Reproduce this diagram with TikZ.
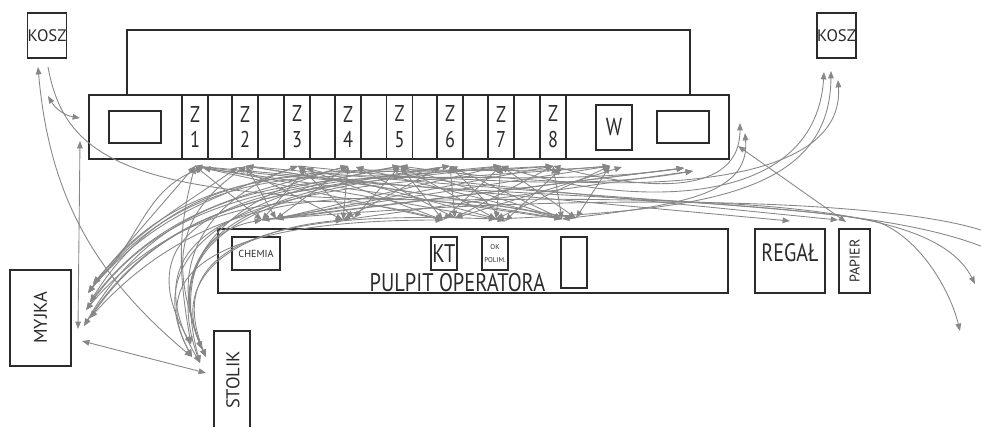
\documentclass[tikz,border=0pt]{standalone}
\usepackage{fontspec}
\setmainfont{PT Sans}
\newfontfamily\narrowfont{PT Sans}[FakeStretch=0.8]
\usepackage{tikz}
\usetikzlibrary{arrows.meta}
\definecolor{SpBox}{HTML}{2B2B2B}
\definecolor{SpFlow}{HTML}{878787}

\begin{document}
\begin{tikzpicture}[x=0.2mm,y=0.2mm,
  >={Triangle[length=4.2pt,width=3.2pt]},
  box/.style={draw=SpBox,line width=0.9pt,inner sep=0pt,text=SpBox},
  flow/.style={draw=SpFlow,line width=0.5pt},
  lbl/.style={text=SpBox,inner sep=0pt},
  zcol/.style={box,minimum width=5.2mm,minimum height=12.8mm,align=center,font=\narrowfont\fontsize{13}{14.7}\selectfont}]
\path[use as bounding box] (0,0) rectangle (981,-426);
\node[box,minimum width=7.2mm,minimum height=9mm,font=\fontsize{9.5}{11}\selectfont] (koszl) at (47,-35.5) {KOSZ};
\node[box,minimum width=7.4mm,minimum height=9mm,font=\fontsize{9.5}{11}\selectfont] (koszr) at (836.5,-35.5) {KOSZ};
\draw[SpBox,line width=0.9pt] (127,-95) |- (690,-30) -- (690,-95);
\draw[SpBox,line width=0.9pt] (89,-95) rectangle (729,-159);
\draw[SpBox,line width=0.9pt] (109,-111) rectangle (161,-143);
\draw[SpBox,line width=0.9pt] (657,-111) rectangle (709,-143);
\node[zcol] (z1) at (195,-127) {Z\\1};
\node[zcol] (z2) at (245,-127) {Z\\2};
\node[zcol] (z3) at (297,-127) {Z\\3};
\node[zcol] (z4) at (348,-127) {Z\\4};
\node[zcol] (z5) at (399.5,-127) {Z\\5};
\node[zcol] (z6) at (450,-127) {Z\\6};
\node[zcol] (z7) at (501,-127) {Z\\7};
\node[zcol] (z8) at (553,-127) {Z\\8};
\node[box,minimum width=7.2mm,minimum height=9mm,font=\narrowfont\fontsize{14}{16}\selectfont] (waga) at (614,-127.5) {W};
\draw[SpBox,line width=0.9pt] (218,-229) rectangle (728,-293);
\node[box,minimum width=9.6mm,minimum height=6.6mm,font=\fontsize{5.8}{7}\selectfont] (chemia) at (256,-253.5) {CHEMIA};
\node[box,minimum width=5.2mm,minimum height=6.6mm,font=\narrowfont\fontsize{14.5}{16}\selectfont] (kt) at (444,-253.5) {KT};
\node[box,minimum width=5.2mm,minimum height=6.6mm,align=center,font=\fontsize{4}{7.5}\selectfont] (okpolim) at (495,-253.5) {OK\\POLIM.};
\draw[SpBox,line width=0.9pt] (561,-237) rectangle (587,-288);
\node[lbl,anchor=base,font=\narrowfont\fontsize{14.5}{16}\selectfont] (pulpit) at (457.5,-291) {PULPIT OPERATORA};
\node[box,minimum width=14mm,minimum height=12.8mm] (regal) at (790,-261) {};
\node[lbl,font=\narrowfont\fontsize{14.3}{16}\selectfont] (regaltxt) at (790,-253) {REGAŁ};
\node[box,rotate=90,minimum width=12.8mm,minimum height=6.2mm,font=\fontsize{8}{10}\selectfont] (papier) at (854.5,-261) {PAPIER};
\node[box,rotate=90,minimum width=19.2mm,minimum height=12.2mm,font=\fontsize{10.5}{12}\selectfont] (myjka) at (40.5,-318) {MYJKA};
\draw[SpBox,line width=0.9pt] (214,-430) |- (250,-331) -- (250,-430);
\node[lbl,rotate=90,font=\fontsize{10.5}{12}\selectfont] (stolik) at (233,-380) {STOLIK};

\coordinate (b1) at (195,-166);
\coordinate (b2) at (246,-166);
\coordinate (b3) at (298,-166);
\coordinate (b4) at (348,-166);
\coordinate (b5) at (400,-166);
\coordinate (b6) at (450,-166);
\coordinate (b7) at (501,-166);
\coordinate (b8) at (553,-166);
\coordinate (c1) at (203,-168);
\coordinate (c2) at (238,-167);
\coordinate (c3) at (306,-168);
\coordinate (c4) at (356,-167);
\coordinate (c6) at (441,-167);
\coordinate (c8) at (562,-168);
\coordinate (bw) at (610,-166);
\coordinate (bx) at (622,-167);
\coordinate (pc) at (262,-220);
\coordinate (pd) at (276,-219);
\coordinate (p1) at (343,-220);
\coordinate (p1a) at (354,-218);
\coordinate (p2) at (443,-220);
\coordinate (p2a) at (455,-218);
\coordinate (p3) at (496,-219);
\coordinate (p3a) at (505,-221);
\coordinate (p4) at (562,-219);
\coordinate (p5) at (576,-218);
\coordinate (e1) at (684,-168);
\coordinate (e2) at (693,-171);
\coordinate (r1) at (740,-123);
\coordinate (r2) at (745,-133);
\coordinate (r3) at (738,-146);
\coordinate (k1) at (824,-72);
\coordinate (k2) at (831,-71);
\coordinate (k3) at (838,-80);
\coordinate (q1) at (38,-67);
\coordinate (q2) at (48,-67);
\coordinate (q3) at (48,-96);
\coordinate (q4) at (80,-118);
\coordinate (q5) at (80,-141);
\coordinate (m1) at (93,-284);
\coordinate (m2) at (88,-293);
\coordinate (m3) at (90,-302);
\coordinate (m4) at (86,-310);
\coordinate (m5) at (90,-318);
\coordinate (m6) at (84,-326);
\coordinate (m7) at (78,-329);
\coordinate (m8) at (82,-341);
\coordinate (s1) at (191,-344);
\coordinate (s2) at (202,-349);
\coordinate (s3) at (206,-357);
\coordinate (s4) at (200,-363);
\coordinate (s5) at (192,-357);
\coordinate (s6) at (206,-373);
\coordinate (g1) at (790,-221);
\coordinate (g2) at (838,-220);
\coordinate (g3) at (846,-222);
\coordinate (o1) at (975,-284);
\coordinate (o2) at (960,-331);
\coordinate (o3) at (995,-235);
\coordinate (o4) at (995,-252);

\draw[flow,<->] (b1) -- (pc);
\draw[flow,<->] (b2) -- (pd);
\draw[flow,<->] (c3) -- (pc);
\draw[flow,<->] (b4) -- (pd);
\draw[flow,<->] (c2) -- (p1);
\draw[flow,<->] (b3) -- (p1a);
\draw[flow,<->] (b4) -- (p1);
\draw[flow,<->] (b5) -- (p1a);
\draw[flow,<->] (c6) -- (p1);
\draw[flow,<->] (b3) -- (p2);
\draw[flow,<->] (c4) -- (p2a);
\draw[flow,<->] (b5) -- (p2);
\draw[flow,<->] (b6) -- (p2a);
\draw[flow,<->] (b7) -- (p2);
\draw[flow,<->] (b8) -- (p2a);
\draw[flow,<->] (b5) -- (p3);
\draw[flow,<->] (b6) -- (p3a);
\draw[flow,<->] (b7) -- (p3);
\draw[flow,<->] (c8) -- (p3a);
\draw[flow,<->] (b6) -- (p4);
\draw[flow,<->] (b7) -- (p5);
\draw[flow,<->] (b8) -- (p4);
\draw[flow,<->] (bw) -- (p5);
\draw[flow,<->] (bw) -- (p3);
\draw[flow,<->] (c4) -- (p4);
\draw[flow,<->] (b2) -- (p5);
\draw[flow,<->] (c3) -- (p3a);
\draw[flow,<->] (c1) -- (p2);
\draw[flow,<->] (b5) -- (p4);
\draw[flow,<->] (bx) -- (p2a);
\draw[flow,->] (b8) -- (pd);
\draw[flow,->] (bw) -- (pc);
\draw[flow,->] (b7) -- (pd);
\draw[flow,->] (p4) -- (c1);
\draw[flow,->] (p5) -- (b2);
\draw[flow,->] (p3a) -- (b1);
\draw[flow,->] (pc) -- (e1);
\draw[flow,->] (p1) -- (e2);
\draw[flow,->] (pd) -- (e1);

\draw[flow,<->] (m1) -- (b1);
\draw[flow,<->] (m1) to[out=50,in=215] (c2);
\draw[flow,<->] (m2) to[out=50,in=200] (b3);
\draw[flow,<->] (m3) to[out=52,in=195] (b4);
\draw[flow,<->] (m4) to[out=55,in=192] (b5);
\draw[flow,<->] (m5) to[out=55,in=190] (b6);
\draw[flow,<->] (m6) to[out=57,in=188] (b7);
\draw[flow,<->] (m2) to[out=55,in=185] (b8);
\draw[flow,<->] (m3) to[out=58,in=185] (bw);
\draw[flow,<->] (m4) to[out=50,in=165] (p2);
\draw[flow,<->] (m5) to[out=48,in=170] (p4);
\draw[flow,<->] (m6) to[out=60,in=188] (e1);
\draw[flow,<->] (m2) to[out=52,in=190] (e2);
\draw[flow,<->] (m1) to[out=42,in=200] (c1);
\draw[flow,<->] (m8) -- (s6);

\draw[flow,<->] (b1) to[out=255,in=100] (s1);
\draw[flow,<->] (b2) to[out=215,in=110,looseness=1.2] (s2);
\draw[flow,<->] (b3) to[out=200,in=115,looseness=1.2] (s3);
\draw[flow,<->] (b4) to[out=195,in=110,looseness=1.2] (s4);
\draw[flow,<->] (b5) to[out=190,in=118,looseness=1.2] (s5);
\draw[flow,<->] (b6) to[out=188,in=112,looseness=1.2] (s2);
\draw[flow,<->] (b7) to[out=185,in=115,looseness=1.2] (s3);
\draw[flow,<->] (b8) to[out=183,in=120,looseness=1.2] (s1);
\draw[flow,<->] (pc) to[out=190,in=105,looseness=1.2] (s4);
\draw[flow,<->] (p1) to[out=185,in=112,looseness=1.2] (s2);
\draw[flow,<->] (p2) to[out=180,in=118,looseness=1.2] (s5);
\draw[flow,<->] (p3) to[out=178,in=112,looseness=1.2] (s3);
\draw[flow,<->] (bw) to[out=185,in=120,looseness=1.2] (s4);

\draw[flow,<->] (q1) to[out=-85,in=140] (s5);
\draw[flow,<->] (q3) to[bend right=25] (q4);
\draw[flow,<->] (q5) -- (m7);
\draw[flow,->] (q2) .. controls (65,-160) and (130,-200) .. (450,-200) .. controls (800,-195) and (940,-215) .. (o1);
\draw[flow,->] (b2) .. controls (600,-200) and (800,-205) .. (878,-222) .. controls (920,-238) and (950,-290) .. (o2);
\draw[flow,->] (pc) .. controls (600,-190) and (900,-200) .. (o3);
\draw[flow,->] (b1) .. controls (500,-205) and (850,-190) .. (o4);

\draw[flow,<->] (b7) .. controls (620,-205) and (815,-215) .. (k1);
\draw[flow,<->] (p3) .. controls (700,-210) and (830,-195) .. (k2);
\draw[flow,<->] (b5) .. controls (650,-200) and (845,-185) .. (k3);
\draw[flow,<->] (b8) .. controls (650,-192) and (740,-195) .. (r1);
\draw[flow,<->] (p4) .. controls (680,-205) and (750,-195) .. (r2);
\draw[flow,<->] (r3) -- (g3);
\draw[flow,->] (b1) -- (g1);
\draw[flow,->] (b3) -- (g2);
\end{tikzpicture}
\end{document}
